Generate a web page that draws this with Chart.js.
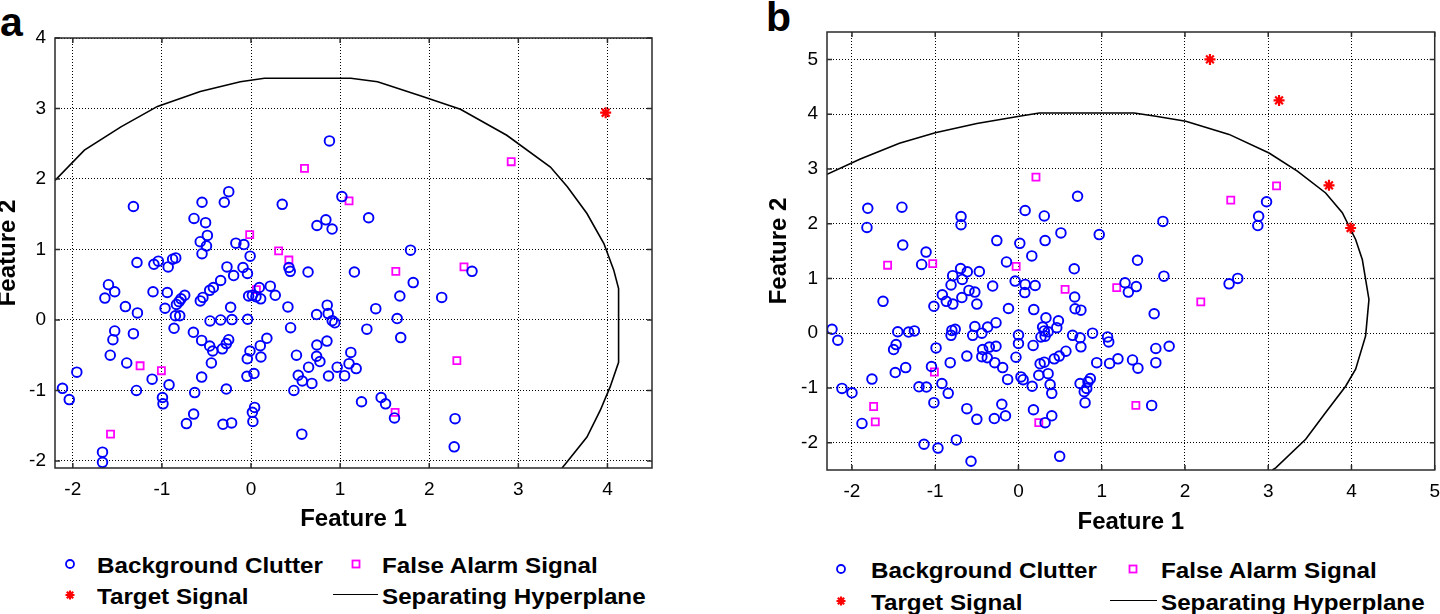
<!DOCTYPE html>
<html>
<head>
<meta charset="utf-8">
<script src="https://cdn.jsdelivr.net/npm/chart.js@4/dist/chart.umd.min.js"></script>
<style>
  html, body { margin: 0; padding: 0; background: #fff; overflow: hidden; }
  body { width: 1440px; height: 614px; position: relative; font-family: "Liberation Sans", Arial, sans-serif; }
  .panel { position: absolute; top: 0; }
  .tag { position: absolute; font-size: 41px; line-height: 41px; font-weight: bold; color: #000; }
  .lg { position: absolute; font-size: 22px; line-height: 22px; font-weight: bold; color: #000;
        white-space: nowrap; transform: scaleX(1.1); transform-origin: left center; }
  .mk { position: absolute; }
</style>
</head>
<body>

<div class="tag" style="left:0px; top:2px;">a</div>
<div class="tag" style="left:766px; top:-3px;">b</div>

<div class="panel" style="left:-6px; width:706px; height:540px;"><canvas id="chart-a" width="706" height="540"></canvas></div>
<div class="panel" style="left:730px; width:720px; height:540px;"><canvas id="chart-b" width="720" height="540"></canvas></div>

<div id="legend-a"></div>
<div id="legend-b"></div>

<script>
// ---- panel a data ----
var clutterA = [
  [-1.32,1.61],[-0.64,1.44],[-0.55,1.67],[-0.51,1.38],[-0.49,1.20],[-0.57,1.11],[-0.50,1.05],[-0.30,1.67],
  [-0.25,1.82],[-0.17,1.09],[-0.08,1.07],[0.35,1.64],[0.74,1.34],[0.84,1.42],[0.91,1.29],[0.88,2.54],
  [1.02,1.75],[1.32,1.45],[1.79,0.99],
  [-0.55,0.94],[-0.01,0.905],[-1.28,0.815],[-1.09,0.79],[-1.04,0.834],[-0.93,0.753],[-0.88,0.862],[-0.845,0.88],
  [-0.27,0.753],[-0.09,0.744],[-0.195,0.63],[-0.04,0.66],[0.64,0.68],[0.425,0.744],[0.44,0.69],[-1.6,0.5],
  [-1.53,0.4],[-1.64,0.31],[-1.41,0.19],[-1.275,0.1],[-1.1,0.4],[-0.94,0.39],[-0.965,0.166],[-0.744,0.35],
  [-0.786,0.30],[-0.808,0.26],[-0.837,0.22],[-0.849,0.06],[-0.80,0.06],[-0.864,-0.118],[-0.569,0.27],[-0.54,0.32],
  [-0.464,0.42],[-0.423,0.46],[-0.341,0.56],[-0.229,0.18],[-0.46,-0.014],[-0.341,0.0],[-0.214,0.005],[-0.038,0.01],
  [-0.027,0.34],[0.015,0.35],[0.055,0.33],[0.093,0.46],[0.108,0.30],[0.216,0.48],[0.272,0.35],[0.414,0.185],
  [0.736,0.077],[0.855,0.21],[0.866,0.09],[0.911,-0.01],[0.94,-0.04],[0.444,-0.11],[-1.53,-0.156],[-1.55,-0.28],
  [-1.32,-0.194],[-1.58,-0.50],[-1.395,-0.61],[-0.647,-0.175],[-0.554,-0.29],[-0.464,-0.37],[-0.43,-0.44],[-0.322,-0.41],
  [-0.277,-0.335],[-0.251,-0.28],[-0.445,-0.61],[-0.012,-0.44],[-0.042,-0.55],[0.104,-0.364],[0.111,-0.525],[0.178,-0.26],
  [0.033,-0.76],[-0.046,-0.80],[-0.554,-0.81],[-1.11,-0.84],[-0.92,-0.92],[-1.286,-1.0],[-1.955,-0.74],[-2.116,-0.97],
  [-2.04,-1.13],[-0.994,-1.1],[-0.988,-1.19],[-0.632,-1.03],[-0.277,-0.98],[0.04,-1.24],[0.015,-1.31],[0.021,-1.44],
  [-0.644,-1.335],[-0.725,-1.47],[-0.315,-1.48],[-0.218,-1.46],[-1.667,-1.875],[-1.667,-2.02],[0.57,-1.62],[0.51,-0.50],
  [0.53,-0.785],[0.575,-0.866],[0.683,-0.90],[0.646,-0.67],[0.481,-1.0],[0.736,-0.515],[0.773,-0.59],[0.739,-0.355],
  [0.852,-0.30],[0.87,-0.795],[0.967,-0.67],
  [1.16,0.68],[1.82,0.53],[1.67,0.34],[1.40,0.16],[1.64,0.02],[1.30,-0.13],[1.68,-0.25],[2.14,0.32],[2.48,0.69],
  [1.12,-0.46],[1.10,-0.62],[1.18,-0.69],[1.05,-0.79],[1.24,-1.16],[1.46,-1.10],[1.51,-1.19],[1.61,-1.39],
  [2.29,-1.40],[2.28,-1.80]
];
var falseAlarmA = [
  [0.6,2.15],[-0.015,1.21],[0.31,0.98],[0.425,0.85],[0.06,0.43],[1.1,1.69],[2.92,2.245],[1.625,0.69],
  [2.39,0.753],[2.31,-0.577],[1.617,-1.31],[-1.245,-0.65],[-1.006,-0.72],[-1.577,-1.62]
];
var targetA = [[3.98,2.94]];
var hyperplaneA = [
  [-2.2,1.98],[-1.87,2.41],[-1.46,2.74],[-1.05,3.03],[-0.57,3.24],[-0.12,3.38],[0.15,3.43],[1.12,3.43],
  [1.42,3.38],[1.9,3.18],[2.35,2.99],[2.87,2.62],[3.36,2.17],[3.55,1.89],[3.77,1.51],[3.96,1.085],
  [4.07,0.71],[4.125,0.445],[4.125,-0.6],[4.03,-0.95],[3.92,-1.28],[3.77,-1.66],[3.53,-2.04],[3.49,-2.1]
];
var xTicksA = [-2, -1, 0, 1, 2, 3, 4];
var yTicksA = [-2, -1, 0, 1, 2, 3, 4];

// ---- panel b data ----
var clutterB = [
  [-1.81,2.28],[-1.82,1.93],[-1.40,2.30],[-1.39,1.61],[-1.11,1.48],[-0.69,2.13],[-0.69,1.98],[-0.26,1.69],
  [0.016,1.64],[0.08,2.24],[0.31,2.14],[0.32,1.69],[0.51,1.83],[0.71,2.5],[0.97,1.80],[0.16,1.41],
  [1.43,1.33],[1.735,2.04],[2.98,2.40],[2.885,2.135],[2.875,1.965],
  [1.747,1.04],[1.28,0.92],[1.415,0.85],[1.32,0.75],[1.63,0.354],[0.89,0.0],[1.07,-0.07],[1.084,-0.16],
  [1.65,-0.28],[1.81,-0.24],[0.94,-0.54],[1.095,-0.553],[1.195,-0.47],[1.37,-0.49],[1.435,-0.64],[1.65,-0.54],
  [2.53,0.90],[2.634,1.0],[1.60,-1.32],[0.863,-0.83],[0.835,-0.89],[0.82,-1.01],[0.79,-1.07],[0.80,-1.27],[0.75,0.42],
  [-1.163,1.254],[-0.695,1.18],[-0.615,1.12],[-0.79,1.05],[-0.675,0.98],[-0.81,0.88],[-0.47,1.125],[-0.31,0.86],
  [-0.144,1.30],[-0.04,0.95],[0.08,0.89],[0.2,0.87],[0.076,0.74],[-0.595,0.78],[-0.524,0.75],[-0.68,0.65],
  [-0.915,0.70],[-0.867,0.58],[-0.788,0.53],[-0.5,0.53],[-1.016,0.49],[-1.627,0.58],[-0.12,0.45],[0.184,0.43],
  [0.67,1.175],[0.675,0.66],[0.68,0.445],[-2.24,0.07],[-2.17,-0.13],[-1.45,0.025],[-1.32,0.02],[-1.25,0.04],
  [-1.47,-0.21],[-1.5,-0.30],[-1.48,-0.72],[-1.355,-0.63],[-0.99,-0.27],[-1.045,-0.61],[-0.80,0.05],[-0.76,0.07],
  [-0.81,-0.04],[-0.524,0.12],[-0.55,-0.04],[-0.44,0.0],[-0.37,0.11],[-0.27,0.19],[-0.43,-0.30],[-0.35,-0.255],
  [-0.27,-0.24],[-0.44,-0.43],[-0.375,-0.45],[-0.62,-0.42],[-0.82,-0.54],[-0.285,-0.54],[-0.19,-0.63],[-0.13,-0.845],
  [0.0,-0.035],[0.0,-0.19],[-0.03,-0.44],[0.176,-0.225],[0.27,-0.07],[0.33,0.28],[0.29,0.11],[0.31,0.04],
  [0.356,0.025],[0.32,-0.055],[0.46,0.1],[0.48,0.225],[0.65,-0.04],[0.74,-0.085],[0.75,-0.25],[0.43,-0.47],
  [0.49,-0.42],[0.57,-0.33],[0.26,-0.56],[0.31,-0.53],[0.356,-0.74],[0.38,-0.94],[0.40,-1.10],[0.244,-0.77],
  [0.164,-0.97],[0.03,-0.80],[0.056,-0.85],[0.18,-1.40],[0.32,-1.635],[0.40,-1.51],[0.495,-2.25],[0.74,-0.92],
  [-1.195,-0.98],[-1.106,-0.985],[-0.92,-0.92],[-0.844,-1.10],[-1.016,-1.27],[-2.12,-1.01],[-2.0,-1.09],[-1.76,-0.84],
  [-1.88,-1.65],[-0.20,-1.30],[-0.156,-1.51],[-0.29,-1.56],[-0.62,-1.38],[-0.50,-1.575],[-0.746,-1.95],[-1.135,-2.03],
  [-0.967,-2.10],[-0.57,-2.34]
];
var falseAlarmB = [
  [0.21,2.85],[3.10,2.69],[2.55,2.43],[-1.572,1.24],[-1.03,1.27],[-0.028,1.22],[0.56,0.80],[-1.01,-0.71],
  [-1.74,-1.34],[-1.72,-1.62],[0.244,-1.635],[1.18,0.83],[2.19,0.57],[1.41,-1.32]
];
var targetB = [[2.30,5.0],[3.13,4.25],[3.73,2.70],[3.99,1.92]];
var hyperplaneB = [
  [-2.3,2.9],[-1.9,3.18],[-1.43,3.47],[-1.0,3.66],[-0.5,3.83],[0.01,3.96],[0.25,4.02],[1.39,4.02],
  [1.65,3.96],[2.01,3.87],[2.53,3.63],[3.01,3.29],[3.35,2.96],[3.69,2.56],[3.89,2.2],[4.05,1.71],
  [4.13,1.345],[4.21,0.615],[4.17,-0.05],[4.05,-0.66],[3.93,-0.97],[3.69,-1.45],[3.45,-1.94],[3.09,-2.46],[3.05,-2.5]
];
var xTicksB = [-2, -1, 0, 1, 2, 3, 4, 5];
var yTicksB = [-2, -1, 0, 1, 2, 3, 4, 5];

var seriesNames = ["Background Clutter", "False Alarm Signal", "Target Signal", "Separating Hyperplane"];

var FONT = '"Liberation Sans", Arial, sans-serif';

function pts(list) {
    return list.map(function (p) { return {x: p[0], y: p[1]}; });
}

// box around the axes plus short inward tick marks, matlab style
var boxPlugin = {
    id: 'box',
    afterDraw: function (chart) {
        var ctx = chart.ctx, a = chart.chartArea, sx = chart.scales.x, sy = chart.scales.y;
        ctx.save();
        ctx.strokeStyle = '#2a2a2a';
        ctx.lineWidth = 1.5;
        ctx.strokeRect(a.left, a.top, a.right - a.left, a.bottom - a.top);
        ctx.beginPath();
        sx.ticks.forEach(function (t) {
            var px = sx.getPixelForValue(t.value);
            ctx.moveTo(px, a.bottom); ctx.lineTo(px, a.bottom - 5);
            ctx.moveTo(px, a.top); ctx.lineTo(px, a.top + 5);
        });
        sy.ticks.forEach(function (t) {
            var py = sy.getPixelForValue(t.value);
            ctx.moveTo(a.left, py); ctx.lineTo(a.left + 5, py);
            ctx.moveTo(a.right, py); ctx.lineTo(a.right - 5, py);
        });
        ctx.stroke();
        ctx.restore();
    }
};

function makeChart(id, d) {
    return new Chart(document.getElementById(id), {
        type: 'scatter',
        data: {
            datasets: [{
                label: seriesNames[0],
                data: pts(d.clutter),
                pointStyle: 'circle',
                pointRadius: 4.8,
                borderColor: '#0000ff',
                backgroundColor: 'rgba(0,0,0,0)',
                borderWidth: 1.9
            }, {
                label: seriesNames[1],
                data: pts(d.falseAlarm),
                pointStyle: 'rect',
                pointRadius: 5,
                borderColor: '#ff00ff',
                backgroundColor: 'rgba(0,0,0,0)',
                borderWidth: 1.8
            }, {
                label: seriesNames[2],
                data: pts(d.target),
                pointStyle: 'star',
                pointRadius: 5.5,
                borderColor: '#ff0000',
                backgroundColor: '#ff0000',
                borderWidth: 2.2
            }, {
                label: seriesNames[3],
                data: pts(d.hyperplane),
                showLine: true,
                pointRadius: 0,
                borderColor: '#000',
                borderWidth: 1.6,
                fill: false
            }]
        },
        options: {
            responsive: false,
            animation: false,
            devicePixelRatio: 1,
            layout: { padding: d.padding },
            plugins: { legend: { display: false }, tooltip: { enabled: false } },
            scales: {
                x: {
                    min: d.xRange[0], max: d.xRange[1],
                    afterBuildTicks: function (s) { s.ticks = d.xTicks.map(function (v) { return {value: v}; }); },
                    afterFit: function (s) { s.height = d.xHeight; },
                    grid: { color: '#000', lineWidth: 1, drawTicks: false },
                    border: { display: false, dash: [1, 2] },
                    ticks: { color: '#000', padding: 10, font: { family: FONT, size: 19 } },
                    title: { display: true, text: 'Feature 1', color: '#000', padding: {top: 0, bottom: d.xTitlePad},
                             font: { family: FONT, size: 24, weight: 'bold' } }
                },
                y: {
                    min: d.yRange[0], max: d.yRange[1],
                    afterBuildTicks: function (s) { s.ticks = d.yTicks.map(function (v) { return {value: v}; }); },
                    afterFit: function (s) { s.width = d.yWidth; },
                    grid: { color: '#000', lineWidth: 1, drawTicks: false },
                    border: { display: false, dash: [1, 2] },
                    ticks: { color: '#000', padding: 9, font: { family: FONT, size: 19 } },
                    title: { display: true, text: 'Feature 2', color: '#000', padding: {top: 0, bottom: 0},
                             font: { family: FONT, size: 24, weight: 'bold' } }
                }
            }
        },
        plugins: [boxPlugin]
    });
}

makeChart('chart-a', {
    clutter: clutterA, falseAlarm: falseAlarmA, target: targetA, hyperplane: hyperplaneA,
    xTicks: xTicksA, yTicks: yTicksA, xRange: [-2.2, 4.5], yRange: [-2.1, 4],
    padding: {left: 0, top: 38, right: 48, bottom: 0}, yWidth: 61, xHeight: 72, xTitlePad: 6
});
makeChart('chart-b', {
    clutter: clutterB, falseAlarm: falseAlarmB, target: targetB, hyperplane: hyperplaneB,
    xTicks: xTicksB, yTicks: yTicksB, xRange: [-2.3, 5], yRange: [-2.5, 5.5],
    padding: {left: 35, top: 32, right: 14, bottom: 0}, yWidth: 62, xHeight: 70, xTitlePad: 3
});

// legends, 2 x 2 grid under each panel
function marker(kind, cx, cy) {
    var s = '<svg class="mk" width="20" height="20" style="left:' + (cx - 10) + 'px; top:' + (cy - 10) + 'px;">';
    if (kind === 'circle') s += '<circle cx="10" cy="10" r="4" fill="none" stroke="#0000ff" stroke-width="1.8"/>';
    if (kind === 'square') s += '<rect x="6.5" y="6.5" width="7" height="7" fill="none" stroke="#ff00ff" stroke-width="1.8"/>';
    if (kind === 'star') s += '<path d="M10 5.5V14.5M5.5 10H14.5M6.8 6.8L13.2 13.2M13.2 6.8L6.8 13.2" stroke="#ff0000" stroke-width="2.2"/>';
    return s + '</svg>';
}
function legend(el, L) {
    var h = '';
    h += marker('circle', L.m1x, L.r1);
    h += '<div class="lg" style="left:' + L.t1x + 'px; top:' + (L.r1 - 9) + 'px;">' + seriesNames[0] + '</div>';
    h += marker('square', L.m2x, L.r1);
    h += '<div class="lg" style="left:' + L.t2x + 'px; top:' + (L.r1 - 9) + 'px;">' + seriesNames[1] + '</div>';
    h += marker('star', L.m1x, L.r2);
    h += '<div class="lg" style="left:' + L.t1x + 'px; top:' + (L.r2 - 9) + 'px;">' + seriesNames[2] + '</div>';
    h += '<div class="mk" style="left:' + L.l0 + 'px; top:' + (L.r2 - 1) + 'px; width:' + (L.l1 - L.l0) + 'px; height:0; border-top:1.6px solid #000;"></div>';
    h += '<div class="lg" style="left:' + L.t2x + 'px; top:' + (L.r2 - 9) + 'px;">' + seriesNames[3] + '</div>';
    document.getElementById(el).innerHTML = h;
}
legend('legend-a', {m1x: 70, m2x: 356, t1x: 97, t2x: 382, r1: 564, r2: 595, l0: 333, l1: 378});
legend('legend-b', {m1x: 841, m2x: 1133, t1x: 871, t2x: 1161, r1: 569, r2: 601, l0: 1110, l1: 1157});
</script>
</body>
</html>
